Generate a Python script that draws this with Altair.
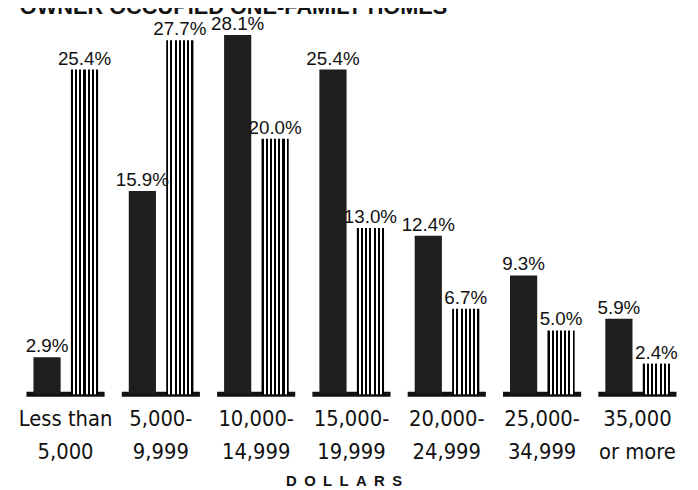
import altair as alt
import pandas as pd

title_text = "OWNER OCCUPIED ONE-FAMILY HOMES"
axis_title = "D\u2002O\u2002L\u2002L\u2002A\u2002R\u2002S"
categories = ["Less than|5,000", "5,000-|9,999", "10,000-|14,999", "15,000-|19,999",
              "20,000-|24,999", "25,000-|34,999", "35,000|or more"]
series_names = ["Solid", "Striped"]
solid_values = [2.9, 15.9, 28.1, 25.4, 12.4, 9.3, 5.9]
striped_values = [25.4, 27.7, 20.0, 13.0, 6.7, 5.0, 2.4]

# layout constants (fraction of a category step)
OFFSET = {"Solid": -0.194, "Striped": 0.199}
BASE_HALF = 0.41

rows = []
for i, (c, a, b) in enumerate(zip(categories, solid_values, striped_values)):
    rows.append({"idx": i, "cat": c, "series": series_names[0], "value": a, "lbl": f"{a:.1f}%"})
    rows.append({"idx": i, "cat": c, "series": series_names[1], "value": b, "lbl": f"{b:.1f}%"})
df = pd.DataFrame(rows)
df["pos"] = df["idx"] + df["series"].map(OFFSET)
cat_df = pd.DataFrame({"idx": list(range(len(categories))), "cat": categories})
cat_df["x0"] = cat_df["idx"] - BASE_HALF
cat_df["x1"] = cat_df["idx"] + BASE_HALF
cat_df["zero"] = 0.0

# vertical stripe fill
n = 7
bw = 0.075
gw = (1 - n * bw) / (n - 1)
stops = []
pos = 0.0
for i in range(n):
    stops.append(alt.GradientStop(color="#000000", offset=round(min(1.0, pos), 4)))
    stops.append(alt.GradientStop(color="#000000", offset=round(min(1.0, pos + bw), 4)))
    if i < n - 1:
        stops.append(alt.GradientStop(color="#ffffff", offset=round(min(1.0, pos + bw), 4)))
        stops.append(alt.GradientStop(color="#ffffff", offset=round(min(1.0, pos + bw + gw), 4)))
    pos += bw + gw
stripes = alt.LinearGradient(gradient="linear", stops=stops, x1=0, x2=1, y1=0, y2=0)

XS = alt.Scale(domain=[-0.5, 6.5], nice=False, zero=False)
YS = alt.Scale(domain=[0, 30], nice=False)

solid = alt.Chart(df).transform_filter(alt.datum.series == series_names[0]).mark_bar(
    color="#1e1e1e", width=27.5
).encode(x=alt.X("pos:Q", scale=XS, axis=None), y=alt.Y("value:Q", scale=YS, axis=None))

striped = alt.Chart(df).transform_filter(alt.datum.series == series_names[1]).mark_bar(
    color=stripes, width=27.5
).encode(x=alt.X("pos:Q", scale=XS, axis=None), y=alt.Y("value:Q", scale=YS, axis=None))

values = alt.Chart(df).mark_text(
    font="Liberation Sans", fontSize=19, color="#111111", baseline="alphabetic", dy=-5
).encode(x=alt.X("pos:Q", scale=XS, axis=None), y=alt.Y("value:Q", scale=YS, axis=None),
         text="lbl:N")

baseline = alt.Chart(cat_df).mark_rule(color="#111111", strokeWidth=5).encode(
    x=alt.X("x0:Q", scale=XS, axis=None), x2="x1:Q",
    y=alt.Y("zero:Q", scale=YS, axis=None))

xlabels = alt.Chart(cat_df).mark_text(
    font="Liberation Sans Narrow, DejaVu Sans Condensed, sans-serif", fontSize=22,
    color="#111111", lineBreak="|", lineHeight=33, baseline="alphabetic"
).encode(x=alt.X("idx:Q", scale=XS, axis=None), y=alt.value(420), text="cat:N")

title = alt.Chart(pd.DataFrame({"t": [title_text]})).mark_text(
    font="Liberation Sans", fontSize=22, fontWeight="bold", color="#111111",
    align="left", baseline="alphabetic"
).encode(x=alt.value(7), y=alt.value(3), text="t:N")

dollars = alt.Chart(pd.DataFrame({"t": [axis_title]})).mark_text(
    font="Liberation Sans", fontSize=15, fontWeight="bold", color="#111111",
    align="center", baseline="alphabetic"
).encode(x=alt.value(335), y=alt.value(481), text="t:N")

chart = alt.layer(baseline, solid, striped, values, xlabels, title, dollars).properties(
    width=685, height=388,
    autosize=alt.AutoSizeParams(type="none"),
    padding={"left": 5, "top": 0, "right": 0, "bottom": 94},
    background="white",
).configure_view(stroke=None)

chart.save("out.html", embed_options={"renderer": "svg", "actions": False})
